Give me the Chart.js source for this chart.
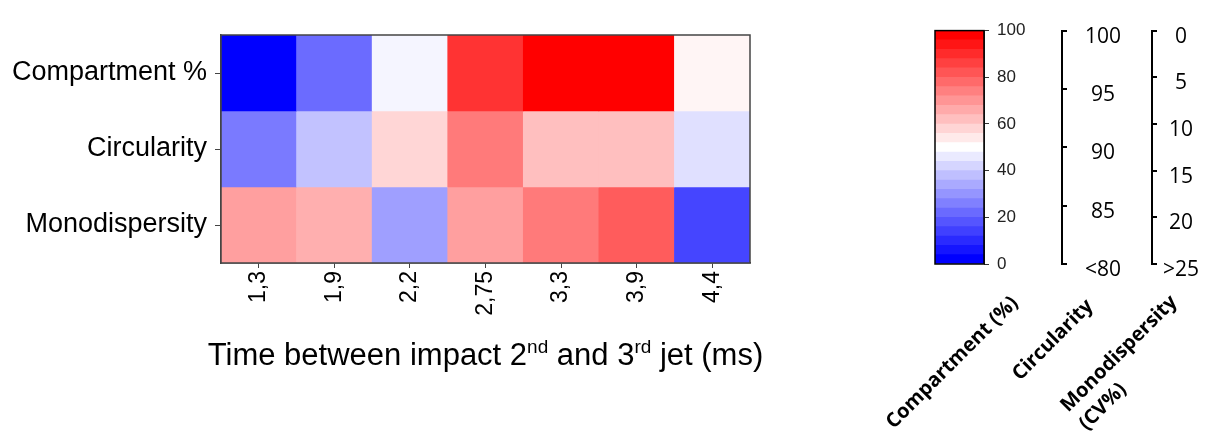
<!DOCTYPE html>
<html lang="en">
<head>
  <meta charset="UTF-8">
  <title>Jet timing heatmap</title>
  <script src="https://cdn.jsdelivr.net/npm/chart.js"></script>
  <style>
    html, body { margin: 0; padding: 0; background: #fff; }
    #wrap { position: relative; width: 1210px; height: 439px; }
    #heatBox { position: absolute; left: 0; top: 0; width: 850px; height: 439px; }
    #scaleBox { position: absolute; left: 850px; top: 0; width: 360px; height: 439px; }
  </style>
</head>
<body>

<div id="wrap">
  <div id="heatBox"><canvas id="heatChart"></canvas></div>
  <div id="scaleBox"><canvas id="scaleChart"></canvas></div>
</div>

<script>
// time between impact of 2nd and 3rd jet (ms)
const timeLabels = ['1,3', '1,9', '2,2', '2,75', '3,3', '3,9', '4,4'];
const rowLabels = ['Compartment %', 'Circularity', 'Monodispersity'];

// values
const compartment = [0, 21, 48, 90, 100, 100, 52];                 // %
const circularity = [84.8, 87.6, 91.6, 95.2, 92.5, 92.5, 88.8];     // %
const monodispersity = [7.8, 8.6, 17.2, 7.8, 6.0, 4.5, 21.6];       // CV%

// colour bar + side scales
const colorTicks = [0, 20, 40, 60, 80, 100];
const circTicks = [80, 85, 90, 95, 100];
const monoTicks = [0, 5, 10, 15, 20, 25];
const colorSteps = 25;
const panelLabels = ['Compartment (%)', 'Circularity', ['Monodispersity', '(CV%)']];

const SANS = "'Liberation Sans', Arial, sans-serif";
const CAL = "'Open Sans', 'Noto Sans', sans-serif";
Chart.defaults.font.family = SANS;
Chart.defaults.color = '#000';

// every row is put on the same 0..100 colour scale
const toScale = [
  v => v,
  v => Math.max(0, Math.min(100, (v - 80) / 20 * 100)),
  v => Math.max(0, Math.min(100, (25 - v) / 25 * 100))
];

function bwr(s) {
  let r, g, b;
  if (s <= 50) {
    r = g = Math.round(255 * s / 50); b = 255;
  } else {
    r = 255; g = b = Math.round(255 * (100 - s) / 50);
  }
  return 'rgb(' + r + ',' + g + ',' + b + ')';
}

const framePlugin = {
  id: 'frame',
  afterDraw(chart, args, opts) {
    const a = chart.chartArea, ctx = chart.ctx;
    ctx.save();
    ctx.strokeStyle = opts.color || '#444';
    ctx.lineWidth = opts.width || 1;
    ctx.strokeRect(a.left, a.top, a.right - a.left, a.bottom - a.top);
    ctx.restore();
  }
};

// x title with superscripts
const xTitlePlugin = {
  id: 'xTitle',
  afterDraw(chart) {
    const ctx = chart.ctx, a = chart.chartArea;
    const parts = [
      ['Time between impact 2', false], ['nd', true], [' and 3', false],
      ['rd', true], [' jet (ms)', false]
    ];
    const big = '31px ' + SANS, small = '19px ' + SANS;
    ctx.save();
    let total = 0;
    parts.forEach(p => { ctx.font = p[1] ? small : big; total += ctx.measureText(p[0]).width; });
    let x = (a.left + a.right) / 2 - total / 2;
    const y = a.bottom + 102;
    ctx.fillStyle = '#000';
    ctx.textBaseline = 'alphabetic';
    ctx.textAlign = 'left';
    parts.forEach(p => {
      ctx.font = p[1] ? small : big;
      ctx.fillText(p[0], x, p[1] ? y - 12 : y);
      x += ctx.measureText(p[0]).width;
    });
    ctx.restore();
  }
};

// rotated names under the colour bar and the two side scales
const panelLabelPlugin = {
  id: 'panelLabels',
  afterDraw(chart) {
    const ctx = chart.ctx, s = chart.scales, bottom = chart.chartArea.bottom;
    const anchors = [
      [s.yc.left + 31, bottom + 36],
      [s.ycirc.left + 28, bottom + 39],
      [s.ymono.left + 22, bottom + 35]
    ];
    ctx.save();
    ctx.fillStyle = '#000';
    ctx.font = 'bold 20px ' + CAL;
    ctx.textBaseline = 'middle';
    panelLabels.forEach((lab, i) => {
      const lines = Array.isArray(lab) ? lab : [lab];
      ctx.save();
      ctx.translate(anchors[i][0], anchors[i][1]);
      ctx.rotate(-Math.PI / 4);
      ctx.textAlign = 'right';
      ctx.fillText(lines[0], 0, 0);
      const w = ctx.measureText(lines[0]).width;
      ctx.textAlign = 'left';
      for (let k = 1; k < lines.length; k++) ctx.fillText(lines[k], -w, 26 * k);
      ctx.restore();
    });
    ctx.restore();
  }
};

const rows = [compartment, circularity, monodispersity];
const heatDatasets = rows.map((vals, r) => ({
  label: rowLabels[r],
  data: vals.map(() => [r, r + 1]),
  backgroundColor: vals.map(v => bwr(toScale[r](v))),
  borderWidth: 0,
  barPercentage: 1,
  categoryPercentage: 1,
  grouped: false
}));

new Chart(document.getElementById('heatChart'), {
  type: 'bar',
  data: { labels: timeLabels, datasets: heatDatasets },
  plugins: [framePlugin, xTitlePlugin],
  options: {
    responsive: true,
    maintainAspectRatio: false,
    animation: false,
    layout: { padding: { top: 35, right: 100, left: 0, bottom: 0 } },
    plugins: {
      legend: { display: false },
      tooltip: { enabled: false },
      frame: { color: '#444', width: 1.5 }
    },
    scales: {
      x: {
        offset: true,
        grid: { offset: false, drawOnChartArea: false, tickLength: 5, color: '#444' },
        border: { color: '#444', width: 1.5 },
        ticks: { minRotation: 90, maxRotation: 90, padding: 3, color: '#000', font: { size: 23 } },
        afterFit: s => { s.height = 176; }
      },
      y: {
        type: 'linear',
        min: 0,
        max: 3,
        reverse: true,
        afterBuildTicks: s => { s.ticks = [0.5, 1.5, 2.5].map(v => ({ value: v })); },
        ticks: { callback: v => rowLabels[Math.floor(v)], padding: 8, color: '#000', font: { size: 27 } },
        grid: { drawOnChartArea: false, tickLength: 6, color: '#444' },
        border: { color: '#444', width: 1.5 },
        afterFit: s => { s.width = 221; }
      }
    }
  }
});

// colour bar: stacked bands on the 0..100 scale
const barDatasets = [];
const stepSize = 100 / colorSteps;
for (let i = 0; i < colorSteps; i++) {
  barDatasets.push({
    data: [[i * stepSize, (i + 1) * stepSize]],
    backgroundColor: bwr(i / (colorSteps - 1) * 100),
    borderWidth: 0,
    barPercentage: 1,
    categoryPercentage: 1,
    grouped: false,
    yAxisID: 'yc'
  });
}

new Chart(document.getElementById('scaleChart'), {
  type: 'bar',
  data: { labels: [''], datasets: barDatasets },
  plugins: [framePlugin, panelLabelPlugin],
  options: {
    responsive: true,
    maintainAspectRatio: false,
    animation: false,
    layout: { padding: { top: 22, left: 85, right: 0, bottom: 175 } },
    plugins: {
      legend: { display: false },
      tooltip: { enabled: false },
      frame: { color: '#000', width: 1.5 }
    },
    scales: {
      x: { display: false },
      yc: {
        position: 'right',
        weight: 0,
        min: 0,
        max: 100,
        afterBuildTicks: s => { s.ticks = colorTicks.map(v => ({ value: v })); },
        ticks: { padding: 8, color: '#222', font: { size: 17 } },
        grid: { drawOnChartArea: false, tickLength: 5, color: '#333' },
        border: { color: '#333' },
        afterFit: s => { s.width = 78; }
      },
      ycirc: {
        position: 'right',
        weight: 1,
        min: 80,
        max: 100,
        afterBuildTicks: s => { s.ticks = circTicks.map(v => ({ value: v })); },
        ticks: {
          callback: v => v === 80 ? '<80' : v,
          crossAlign: 'center', labelOffset: 6, padding: 18,
          color: '#000', font: { family: CAL, size: 21 }
        },
        grid: { drawOnChartArea: false, tickLength: 5, color: '#000', lineWidth: 2 },
        border: { color: '#000', width: 2 },
        afterFit: s => { s.width = 90; }
      },
      ymono: {
        position: 'right',
        weight: 2,
        min: 0,
        max: 25,
        reverse: true,
        afterBuildTicks: s => { s.ticks = monoTicks.map(v => ({ value: v })); },
        ticks: {
          callback: v => v === 25 ? '>25' : v,
          crossAlign: 'center', labelOffset: 6, padding: 6,
          color: '#000', font: { family: CAL, size: 21 }
        },
        grid: { drawOnChartArea: false, tickLength: 5, color: '#000', lineWidth: 2 },
        border: { color: '#000', width: 2 },
        afterFit: s => { s.width = 58; }
      }
    }
  }
});
</script>

</body>
</html>
